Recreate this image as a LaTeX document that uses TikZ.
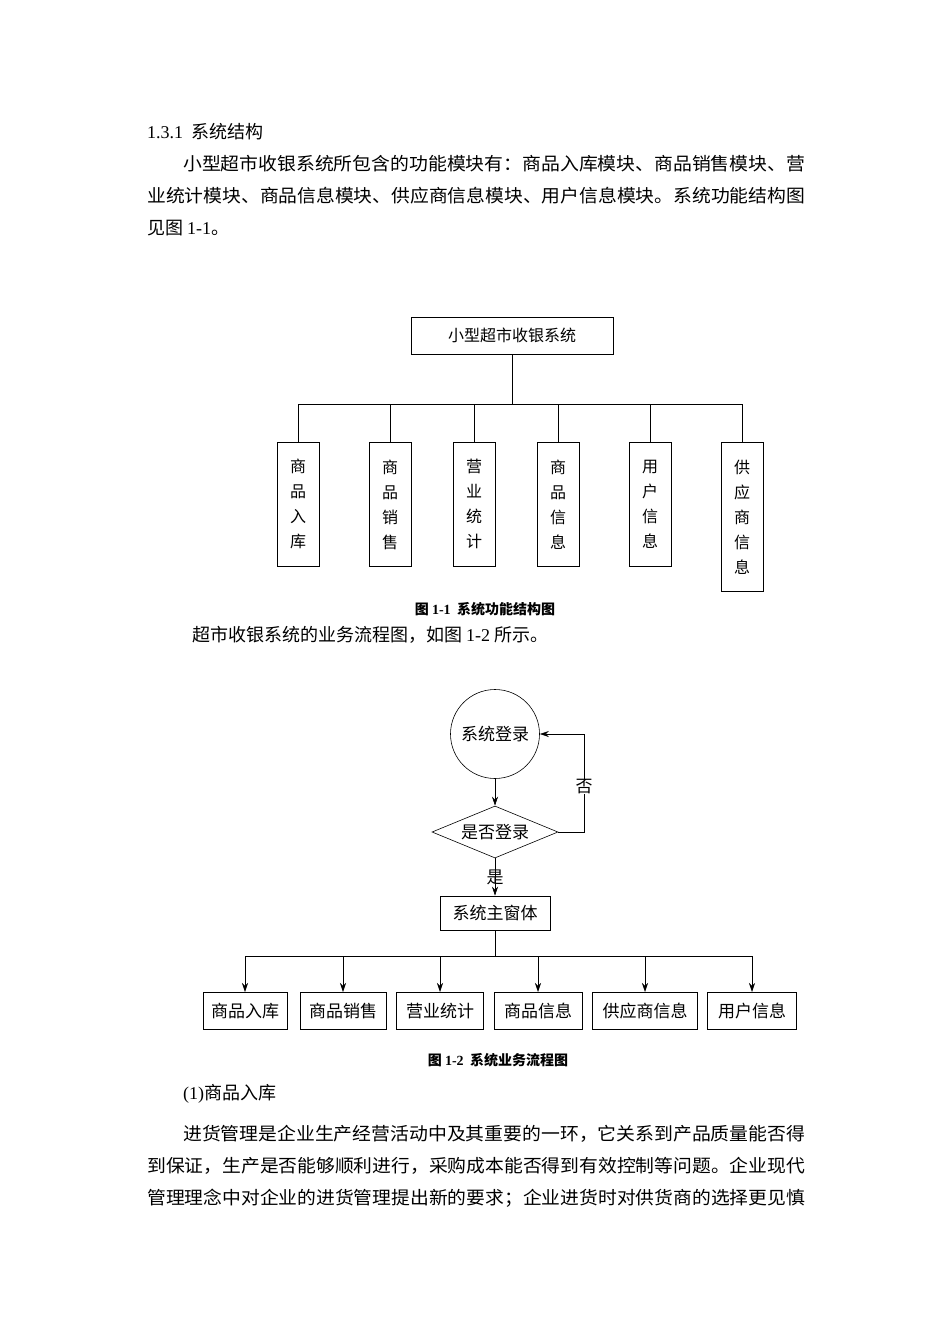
\documentclass[tikz,border=0pt]{standalone}
\usepackage{fontspec}
\setmainfont{Noto Sans CJK SC}
\newfontfamily\lat{Liberation Serif}
\usetikzlibrary{shapes.geometric,arrows.meta}
\newcommand{\fitl}[2]{\resizebox{#1pt}{\height}{#2}}
\begin{document}
\begin{tikzpicture}[x=1pt,y=-1pt,
  body/.style={anchor=west,inner sep=0pt,font=\fontsize{18}{20}\selectfont},
  bx/.style={draw,thick,inner sep=0pt},
  vt/.style={font=\fontsize{16}{25}\selectfont,align=center},
  fl/.style={font=\fontsize{17}{20}\selectfont},
  capt/.style={font=\fontsize{14}{16}\selectfont\bfseries},
  arr/.style={-{Stealth[length=9pt,width=6pt]},semithick},
  ln/.style={semithick}]
\useasboundingbox (0,0) rectangle (950,1344);
% text
\node[body] (h) at (147,132) {{\lat 1.3.1}\ \ 系统结构};
\node[body] (p1) at (183,164) {\fitl{622}{小型超市收银系统所包含的功能模块有：商品入库模块、商品销售模块、营}};
\node[body] (p2) at (147,196) {\fitl{658}{业统计模块、商品信息模块、供应商信息模块、用户信息模块。系统功能结构图}};
\node[body] (p3) at (147,228) {见图 {\lat 1-1}。};
% diagram 1
\node[bx,minimum width=202,minimum height=37,font=\fontsize{16}{18}\selectfont] (top) at (512,335.5) {小型超市收银系统};
\coordinate (j) at (512,404);
\draw[ln] (top.south) -- (j);
\foreach \n/\x/\t/\h in {a/298/商\\品\\入\\库/124,b/390/商\\品\\销\\售/124,c/474/营\\业\\统\\计/124,d/558/商\\品\\信\\息/124,e/650/用\\户\\信\\息/124,f/742/供\\应\\商\\信\\息/149}{
  \node[bx,vt,minimum width=42,minimum height=\h,anchor=north] (\n) at (\x,442) {\t};
  \draw[ln] (\n.north) |- (j);
}
\node[capt] (c1) at (485,609) {图 {\lat\bfseries 1-1}\ \ 系统功能结构图};
\node[body] (p4) at (192,635) {超市收银系统的业务流程图，如图 {\lat 1-2} 所示。};
% diagram 2
\node[draw,semithick,circle,minimum size=89,fl] (login) at (495,734) {系统登录};
\node[draw,semithick,diamond,aspect=2.4,minimum width=126,minimum height=52,inner sep=0pt,fl] (q) at (495,832) {是否登录};
\node[draw,semithick,minimum width=110,minimum height=34,fl] (main) at (495,913) {系统主窗体};
\draw[arr] (login) -- (q);
\coordinate (r) at (584,734);
\draw[arr] (q.east) -- (584,832) -- (r) -- (login.east);
\node[fl,fill=white,inner sep=0pt] (no) at (584,787) {否};
\draw[arr] (q) -- (main);
\node[fl,inner sep=0pt] (yes) at (495,877) {是};
\coordinate (j2) at (495,956);
\draw[ln] (main) -- (j2);
\foreach \n/\x/\w/\t in {g/245/84/商品入库,h2/343/86/商品销售,i/440/87/营业统计,k/538/88/商品信息,l/645/105/供应商信息,m/752/89/用户信息}{
  \node[draw,semithick,minimum width=\w,minimum height=37,anchor=north,fl] (\n) at (\x,992) {\t};
  \draw[arr] (j2) -| (\n.north);
}
\node[capt] (c2) at (498,1060) {图 {\lat\bfseries 1-2}\ \ 系统业务流程图};
\node[body] (p5) at (183,1094) {{\lat (1)}商品入库};
\node[body] (p6) at (183,1134) {\fitl{622}{进货管理是企业生产经营活动中及其重要的一环，它关系到产品质量能否得}};
\node[body] (p7) at (147,1166) {\fitl{658}{到保证，生产是否能够顺利进行，采购成本能否得到有效控制等问题。企业现代}};
\node[body] (p8) at (147,1198) {\fitl{658}{管理理念中对企业的进货管理提出新的要求；企业进货时对供货商的选择更见慎}};
\end{tikzpicture}
\end{document}
